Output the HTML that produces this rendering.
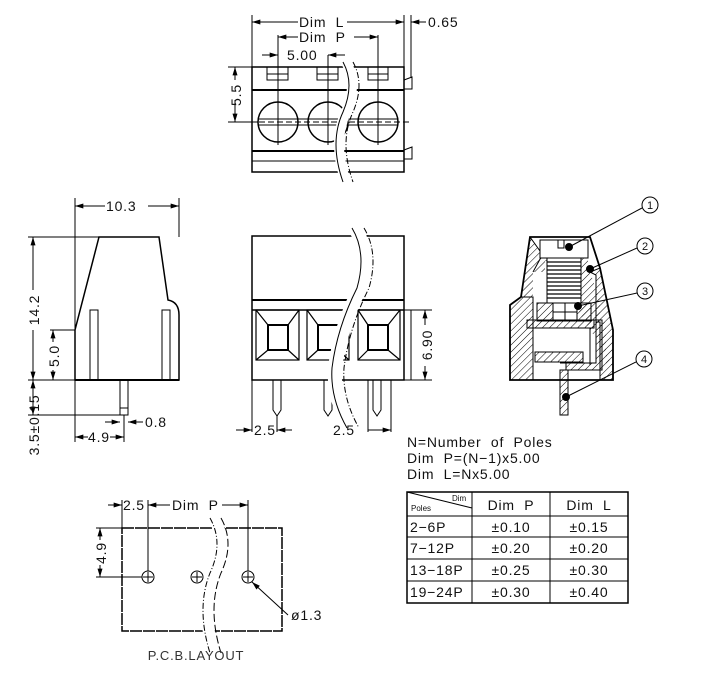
<!DOCTYPE html>
<html><head><meta charset="utf-8"><style>
html,body{margin:0;padding:0;background:#fff}
svg{display:block}
text{font-family:"Liberation Sans",sans-serif;fill:#111;white-space:pre}
.t{letter-spacing:0.8px}
</style></head><body>
<svg width="707" height="675" viewBox="0 0 707 675" xmlns="http://www.w3.org/2000/svg">
<defs>
<marker id="a" viewBox="0 0 10 6" refX="10" refY="3" markerWidth="9" markerHeight="5" orient="auto-start-reverse"><path d="M0,0L10,3L0,6z" fill="#000"/></marker>
<pattern id="h" width="5" height="5" patternUnits="userSpaceOnUse" patternTransform="rotate(45)"><line x1="0" y1="0" x2="0" y2="5" stroke="#000" stroke-width="1"/></pattern>
</defs>
<g stroke="#000" fill="none" stroke-width="1">
<!-- TOP VIEW -->
<rect x="252" y="67" width="152" height="105" stroke-width="1.5"/>
<line x1="252" y1="90" x2="404" y2="90" stroke-width="2"/>
<line x1="252" y1="151" x2="404" y2="151" stroke-width="2"/>
<line x1="252" y1="161" x2="404" y2="161"/>
<rect x="267" y="67" width="21" height="13"/><line x1="267" y1="74" x2="288" y2="74"/>
<rect x="317" y="67" width="21" height="13"/><line x1="317" y1="74" x2="338" y2="74"/>
<rect x="368" y="67" width="20" height="13"/><line x1="368" y1="74" x2="388" y2="74"/>
<circle cx="278" cy="122" r="20" stroke-width="1.5"/><circle cx="328" cy="122" r="20" stroke-width="1.5"/><circle cx="378" cy="122" r="20" stroke-width="1.5"/>
<line x1="258" y1="119" x2="398" y2="119"/><line x1="258" y1="125" x2="398" y2="125"/>
<line x1="250" y1="122" x2="410" y2="122" stroke-dasharray="6,3"/>
<path d="M404,80 l8,-3 v12 h-8 M404,150 l8,-3 v12 h-8"/>
<line x1="278" y1="35" x2="278" y2="145"/><line x1="378" y1="35" x2="378" y2="145"/><line x1="328" y1="55" x2="328" y2="145"/>
<line x1="252" y1="15" x2="252" y2="67"/><line x1="404" y1="15" x2="404" y2="78"/><line x1="411" y1="15" x2="411" y2="78"/>
<line x1="252" y1="22" x2="298" y2="22" marker-start="url(#a)"/><line x1="347" y1="22" x2="404" y2="22" marker-end="url(#a)"/>
<line x1="278" y1="37" x2="298" y2="37" marker-start="url(#a)"/><line x1="354" y1="37" x2="378" y2="37" marker-end="url(#a)"/>
<line x1="262" y1="55" x2="278" y2="55" marker-end="url(#a)"/><line x1="345" y1="55" x2="328" y2="55" marker-end="url(#a)"/>
<line x1="426" y1="22" x2="411" y2="22" marker-end="url(#a)"/>
<line x1="228" y1="67" x2="252" y2="67"/><line x1="228" y1="122" x2="258" y2="122"/>
<line x1="235" y1="67" x2="235" y2="80" marker-start="url(#a)"/><line x1="235" y1="100" x2="235" y2="122" marker-end="url(#a)"/>
<path d="M346,62 q12,22 0,50 q-14,30 0,70" stroke="#fff" stroke-width="10"/>
<path d="M343,62 q12,22 0,50 q-14,30 0,70"/><path d="M353,62 q12,22 0,50 q-14,30 0,70" stroke-dasharray="6,2,1,2"/>
<!-- FRONT VIEW -->
<rect x="252" y="236" width="152" height="144" stroke-width="1.5"/>
<line x1="252" y1="300" x2="404" y2="300" stroke-width="2"/>
<line x1="252" y1="310" x2="404" y2="310" stroke-width="1.5"/>
<rect x="404" y="310" width="7" height="70"/>
<g stroke-width="1.2">
<rect x="256" y="310" width="43" height="50"/><rect x="307" y="310" width="42" height="50"/><rect x="358" y="310" width="42" height="50"/>
<rect x="268" y="325" width="20" height="25" stroke-width="2"/><rect x="318" y="325" width="20" height="25" stroke-width="2"/><rect x="368" y="325" width="20" height="25" stroke-width="2"/>
<path d="M256,310 l12,15 M299,310 l-11,15 M256,360 l12,-10 M299,360 l-11,-10"/>
<path d="M307,310 l11,15 M349,310 l-11,15 M307,360 l11,-10 M349,360 l-11,-10"/>
<path d="M358,310 l10,15 M400,310 l-12,15 M358,360 l10,-10 M400,360 l-12,-10"/>
</g>
<path d="M273,380 v30 l4,6 l4,-6 v-30 M324,380 v30 l4,6 l4,-6 v-30 M373,380 v30 l4,6 l4,-6 v-30"/>
<path d="M355,228 q15,25 5,60 q-20,40 -25,80 q-2,30 15,60" stroke="#fff" stroke-width="14"/>
<path d="M352,228 q15,25 5,60 q-20,40 -25,80 q-2,30 15,60"/><path d="M364,228 q15,25 5,60 q-20,40 -25,80 q-2,30 15,60" stroke-dasharray="6,2,1,2"/>
<line x1="252" y1="380" x2="252" y2="432"/><line x1="277" y1="416" x2="277" y2="432"/><line x1="368" y1="380" x2="368" y2="432"/><line x1="391" y1="380" x2="391" y2="432"/>
<line x1="236" y1="430" x2="252" y2="430" marker-end="url(#a)"/><line x1="292" y1="430" x2="277" y2="430" marker-end="url(#a)"/>
<line x1="368" y1="430" x2="391" y2="430" marker-end="url(#a)"/>
<line x1="411" y1="310" x2="432" y2="310"/><line x1="411" y1="380" x2="432" y2="380"/>
<line x1="425" y1="310" x2="425" y2="325" marker-start="url(#a)"/><line x1="425" y1="366" x2="425" y2="380" marker-end="url(#a)"/>
<!-- SIDE VIEW -->
<path d="M75,380 V330 L99,237 H159 L168,300 Q179,302 179,315 V380 Z" stroke-width="1.5"/>
<line x1="75" y1="380" x2="179" y2="380" stroke-width="2"/>
<rect x="90" y="310" width="8" height="70"/><rect x="162" y="310" width="8" height="70"/>
<rect x="120" y="380" width="8" height="35"/><line x1="120" y1="408" x2="128" y2="408"/>
<line x1="75" y1="198" x2="75" y2="442"/><line x1="179" y1="198" x2="179" y2="237"/>
<line x1="75" y1="206" x2="105" y2="206" marker-start="url(#a)"/><line x1="148" y1="206" x2="179" y2="206" marker-end="url(#a)"/>
<line x1="28" y1="237" x2="99" y2="237"/><line x1="28" y1="380" x2="75" y2="380"/><line x1="28" y1="415" x2="120" y2="415"/><line x1="50" y1="330" x2="75" y2="330"/>
<line x1="33" y1="237" x2="33" y2="290" marker-start="url(#a)"/><line x1="33" y1="330" x2="33" y2="380" marker-end="url(#a)"/>
<line x1="53" y1="330" x2="53" y2="342" marker-start="url(#a)"/><line x1="53" y1="370" x2="53" y2="380" marker-end="url(#a)"/>
<line x1="33" y1="380" x2="33" y2="415" marker-start="url(#a)" marker-end="url(#a)"/>
<line x1="124" y1="415" x2="124" y2="442"/>
<line x1="75" y1="437" x2="88" y2="437" marker-start="url(#a)"/><line x1="110" y1="437" x2="124" y2="437" marker-end="url(#a)"/>
<line x1="105" y1="422" x2="120" y2="422" marker-end="url(#a)"/><line x1="143" y1="422" x2="128" y2="422" marker-end="url(#a)"/>
<!-- SECTION VIEW -->
<path d="M510,380 V305 L521,297 L530,237 H590 L600,268 L613,330 V380 Z" stroke-width="1.8"/>
<path d="M530,237 L521,297 H533 V272 H545 V258 H588 V272 H590 L600,300 V322 H606 V365 H613" fill="url(#h)" stroke="none"/>
<path d="M510,305 L521,297 H533 V380 H510 Z" fill="url(#h)"/>
<path d="M590,272 L600,268 L613,330 V380 H600 V322 H596 V275 Z" fill="url(#h)"/>
<path d="M530,237 L545,258 M545,250 L533,272"/>
<rect x="540" y="240" width="48" height="18" fill="#fff"/>
<path d="M558,240 v8 h6 v-8"/>
<rect x="547" y="258" width="34" height="45" fill="#fff"/>
<g stroke-width="1.2"><path d="M547,262h34M547,266h34M547,270h34M547,274h34M547,278h34M547,282h34M547,286h34M547,290h34M547,294h34M547,298h34"/></g>
<rect x="537" y="303" width="54" height="18" fill="url(#h)"/>
<rect x="553" y="303" width="24" height="18" fill="#fff"/><line x1="565" y1="303" x2="565" y2="321"/><line x1="553" y1="312" x2="577" y2="312"/>
<rect x="527" y="320" width="67" height="8" fill="url(#h)"/>
<path d="M594,320 h8 v50 h-36 v-7 h30 v-43" fill="url(#h)"/>
<rect x="535" y="352" width="48" height="10" fill="url(#h)"/>
<line x1="533" y1="328" x2="533" y2="380"/><line x1="590" y1="328" x2="590" y2="365"/>
<path d="M560,370 h8 v45 h-8 z" fill="url(#h)"/><path d="M560,363 h6" />
<circle cx="569" cy="247" r="3.5" fill="#000"/><circle cx="590" cy="269" r="3.5" fill="#000"/><circle cx="578" cy="306" r="3.5" fill="#000"/><circle cx="566" cy="397" r="3.5" fill="#000"/>
<line x1="569" y1="247" x2="642" y2="208"/><line x1="590" y1="269" x2="637" y2="248"/><line x1="578" y1="306" x2="637" y2="293"/><line x1="566" y1="397" x2="636" y2="362"/>
<circle cx="650" cy="205" r="8"/><circle cx="645" cy="246" r="8"/><circle cx="645" cy="291" r="8"/><circle cx="644" cy="359" r="8"/>
<!-- TABLE -->
<rect x="407" y="492" width="221" height="111" stroke-width="1.5"/>
<line x1="407" y1="516" x2="628" y2="516"/><line x1="407" y1="537" x2="628" y2="537"/><line x1="407" y1="559" x2="628" y2="559"/><line x1="407" y1="581" x2="628" y2="581"/>
<line x1="472" y1="492" x2="472" y2="603"/><line x1="550" y1="492" x2="550" y2="603"/>
<line x1="407" y1="492" x2="472" y2="508"/>
<!-- PCB -->
<rect x="122" y="528" width="160" height="103" stroke-width="1.5" stroke-dasharray="12,1"/>
<circle cx="148" cy="577" r="6"/><circle cx="197" cy="577" r="6"/><circle cx="248" cy="577" r="6"/>
<path d="M143,577h10M148,572v10M192,577h10M197,572v10M243,577h10M248,572v10"/>
<line x1="122" y1="500" x2="122" y2="528"/><line x1="148" y1="500" x2="148" y2="571"/><line x1="248" y1="500" x2="248" y2="571"/>
<line x1="108" y1="505" x2="122" y2="505" marker-end="url(#a)"/><line x1="148" y1="505" x2="170" y2="505" marker-start="url(#a)"/><line x1="222" y1="505" x2="248" y2="505" marker-end="url(#a)"/>
<line x1="96" y1="528" x2="122" y2="528"/><line x1="96" y1="577" x2="142" y2="577"/>
<line x1="100" y1="528" x2="100" y2="540" marker-start="url(#a)"/><line x1="100" y1="565" x2="100" y2="577" marker-end="url(#a)"/>
<line x1="288" y1="615" x2="252" y2="582" marker-end="url(#a)"/>
<path d="M214,518 q14,25 0,55 q-14,35 0,80" stroke="#fff" stroke-width="12"/>
<path d="M210,518 q14,25 0,55 q-14,35 0,80" stroke-dasharray="6,2,1,2"/><path d="M221,518 q14,25 0,55 q-14,35 0,80" stroke-dasharray="8,3"/>
</g>
<g font-size="14" class="t">
<text x="299" y="27">Dim  L</text><text x="299" y="42">Dim  P</text><text x="287" y="60">5.00</text><text x="428" y="27">0.65</text>
<text transform="translate(241,95) rotate(-90)" text-anchor="middle">5.5</text>
<text x="106" y="211">10.3</text>
<text transform="translate(39,310) rotate(-90)" text-anchor="middle">14.2</text>
<text transform="translate(59,356) rotate(-90)" text-anchor="middle">5.0</text>
<text transform="translate(39,425) rotate(-90)" text-anchor="middle">3.5±0.15</text>
<text x="88" y="442">4.9</text><text x="145" y="427">0.8</text>
<text x="254" y="435">2.5</text><text x="333" y="435">2.5</text>
<text transform="translate(432,345) rotate(-90)" text-anchor="middle">6.90</text>
<text x="407" y="447">N=Number  of  Poles</text>
<text x="407" y="463">Dim  P=(N−1)x5.00</text>
<text x="407" y="479">Dim  L=Nx5.00</text>
<text x="511" y="510" text-anchor="middle">Dim  P</text><text x="589" y="510" text-anchor="middle">Dim  L</text>
<text x="410" y="532">2−6P</text><text x="410" y="553">7−12P</text><text x="410" y="575">13−18P</text><text x="410" y="597">19−24P</text>
<text x="511" y="532" text-anchor="middle">±0.10</text><text x="589" y="532" text-anchor="middle">±0.15</text>
<text x="511" y="553" text-anchor="middle">±0.20</text><text x="589" y="553" text-anchor="middle">±0.20</text>
<text x="511" y="575" text-anchor="middle">±0.25</text><text x="589" y="575" text-anchor="middle">±0.30</text>
<text x="511" y="597" text-anchor="middle">±0.30</text><text x="589" y="597" text-anchor="middle">±0.40</text>
<text x="123" y="510">2.5</text><text x="172" y="510">Dim  P</text>
<text transform="translate(106,553) rotate(-90)" text-anchor="middle">4.9</text>
<text x="291" y="620">ø1.3</text>
</g>
<text x="411" y="511" font-size="8">Poles</text><text x="452" y="501" font-size="8">Dim</text>
<g font-size="11" text-anchor="middle"><text x="650" y="209">1</text><text x="645" y="250">2</text><text x="645" y="295">3</text><text x="644" y="363">4</text></g>
<text x="196" y="660" font-size="13" text-anchor="middle" class="t" style="fill:#333">P.C.B.LAYOUT</text>
</svg>
</body></html>
